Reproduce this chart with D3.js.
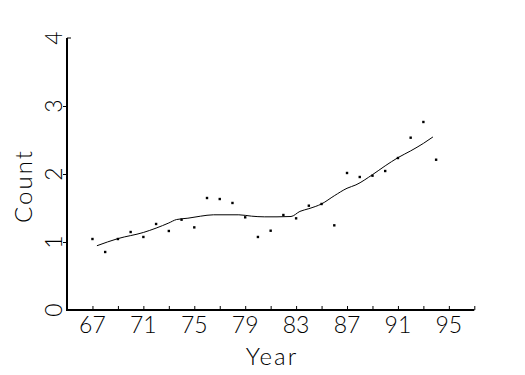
<!DOCTYPE html>
<html>
<head>
<meta charset="utf-8">
<script src="https://cdn.jsdelivr.net/npm/d3@7"></script>
<style>
  html, body { margin: 0; padding: 0; background: #fff; }
  svg { display: block; }
  text { font-family: "Lato", "Liberation Sans", Arial, sans-serif; font-weight: 300; fill: #000; }
</style>
</head>
<body>
<svg id="chart" width="525" height="375"></svg>
<script>
// ---- data ----
const years = [67,68,69,70,71,72,73,74,75,76,77,78,79,80,81,82,83,84,85,86,87,88,89,90,91,92,93,94];
const counts = [1.044,0.853,1.044,1.147,1.074,1.265,1.162,1.328,1.215,1.647,1.632,1.574,1.363,1.074,1.166,1.397,1.348,1.534,1.559,1.245,2.015,1.956,1.975,2.044,2.235,2.534,2.765,2.210];
const smoothYears = [67.35,69,71,73,73.6,74.5,75.5,76.5,78.5,79.5,80.5,81.5,82.6,83.3,84,85,86,87,87.7,89,90,91,92,93,93.75];
const smoothValues = [0.945,1.05,1.14,1.28,1.33,1.35,1.38,1.40,1.40,1.38,1.37,1.37,1.375,1.45,1.49,1.56,1.68,1.79,1.84,1.99,2.12,2.24,2.34,2.45,2.545];
const xTickValues = [67,69,71,73,75,77,79,81,83,85,87,89,91,93,95,97];
const xLabelValues = [67,71,75,79,83,87,91,95];
const yLabelValues = [0,1,2,3,4];
const xTitle = "Year";
const yTitle = "Count";

// ---- chart ----
const svg = d3.select("#chart");
const x = d3.scaleLinear().domain([65, 97]).range([67, 474.3]);
const y = d3.scaleLinear().domain([0, 4]).range([310, 38]);

// axis lines
svg.append("path")
  .attr("d", `M${x(65)},${y(4)}V${y(0)}H${x(97)}`)
  .attr("fill", "none").attr("stroke", "#000").attr("stroke-width", 2);

// x ticks (pointing up)
const xAxis = d3.axisBottom(x).tickValues(xTickValues).tickSize(-4)
  .tickFormat(() => "");
const gx = svg.append("g").attr("transform", `translate(0,${y(0)})`).call(xAxis);
gx.select(".domain").remove();
gx.selectAll("line").attr("stroke", "#000").attr("stroke-width", 1);

// y ticks (pointing left) at 1..3, top end tick pointing right
const yAxis = d3.axisLeft(y).tickValues([1,2,3]).tickSize(4).tickFormat(() => "");
const gy = svg.append("g").attr("transform", `translate(${x(65)},0)`).call(yAxis);
gy.select(".domain").remove();
gy.selectAll("line").attr("stroke", "#000").attr("stroke-width", 1);
svg.append("line")
  .attr("x1", x(65)).attr("x2", x(65) + 4)
  .attr("y1", y(4)).attr("y2", y(4))
  .attr("stroke", "#000").attr("stroke-width", 1);

// x labels
svg.selectAll(".xl").data(xLabelValues).enter().append("text")
  .attr("class", "xl")
  .attr("x", d => x(d)).attr("y", 333)
  .attr("text-anchor", "middle").attr("font-size", 23)
  .text(d => d);

// y labels (rotated)
svg.selectAll(".yl").data(yLabelValues).enter().append("text")
  .attr("class", "yl")
  .attr("transform", d => `translate(62,${y(d)}) rotate(-90)`)
  .attr("text-anchor", "middle").attr("font-size", 23)
  .text(d => d);

// titles
svg.append("text")
  .attr("x", 272).attr("y", 365)
  .attr("text-anchor", "middle").attr("font-size", 24)
  .attr("letter-spacing", 2)
  .text(xTitle);
svg.append("text")
  .attr("transform", `translate(32,186) rotate(-90)`)
  .attr("text-anchor", "middle").attr("font-size", 24)
  .attr("letter-spacing", 2)
  .text(yTitle);

// smooth line
const line = d3.line().x(d => x(d[0])).y(d => y(d[1])).curve(d3.curveMonotoneX);
svg.append("path")
  .datum(smoothYears.map((yr, i) => [yr, smoothValues[i]]))
  .attr("d", line)
  .attr("fill", "none").attr("stroke", "#000").attr("stroke-width", 1);

// points
svg.selectAll(".pt").data(years.map((yr, i) => [yr, counts[i]])).enter().append("rect")
  .attr("class", "pt")
  .attr("x", d => x(d[0]) - 1.2).attr("y", d => y(d[1]) - 1.2)
  .attr("width", 2.4).attr("height", 2.4)
  .attr("fill", "#000");
</script>
</body>
</html>
